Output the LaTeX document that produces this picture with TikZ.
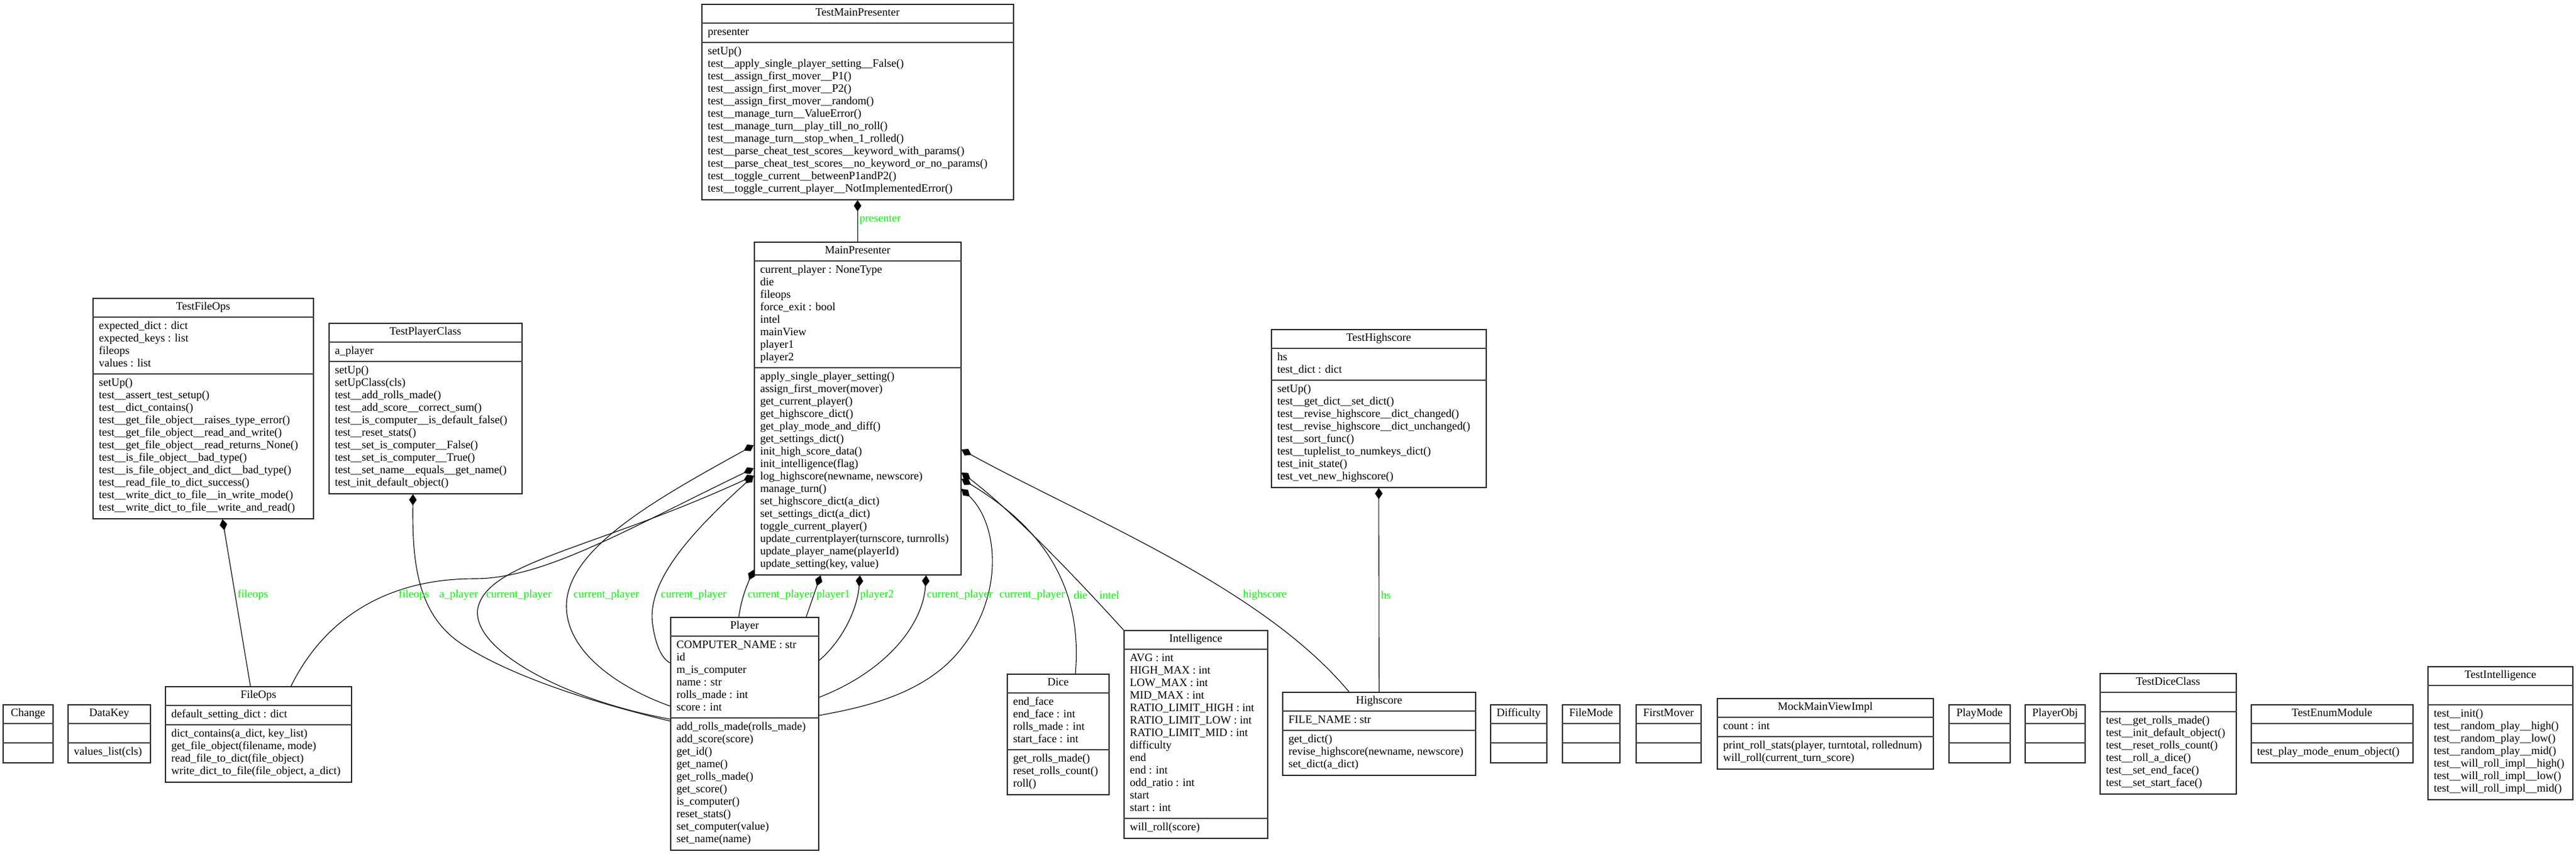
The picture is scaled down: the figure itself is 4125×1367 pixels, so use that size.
\documentclass[tikz,border=0pt]{standalone}
\usepackage{fontspec}
\setmainfont{Liberation Serif}
\usetikzlibrary{arrows.meta,calc}

\definecolor{lblgreen}{RGB}{0,255,0}
\newcommand\umlfont{\fontsize{9}{10}\selectfont}
\newcommand\rows[1]{\begin{tabular}{@{}l@{}}#1\end{tabular}}
% id, left, top, width, attr rows, op rows, name, attributes, operations
\newcommand\umlclass[9]{%
  \node[classbox, minimum width={#4*0.5pt}, minimum height={(53+(#5+#6)*20)*0.5pt}] (#1) at (#2,#3) {};
  \draw[sepline] ($(#1.north west)+(0,31)$) -- ($(#1.north east)+(0,31)$);
  \draw[sepline] ($(#1.north west)+(0,42+#5*20)$) -- ($(#1.north east)+(0,42+#5*20)$);
  \node[classtext, anchor=north] (#1-name) at ($(#1.north)+(0,5.5)$) {\rows{#7}};
  \node[classtext] (#1-attr) at ($(#1.north west)+(10,36.5)$) {\rows{#8}};
  \node[classtext] (#1-op) at ($(#1.north west)+(10,47.5+#5*20)$) {\rows{#9}};
}

\begin{document}
\begin{tikzpicture}[x=0.5pt, y=-0.5pt,
  classbox/.style={draw=black!85, line width=0.8pt, fill=white, anchor=north west, inner sep=0pt},
  sepline/.style={draw=black!75, line width=0.9pt},
  classtext/.style={anchor=north west, inner sep=0pt, font=\umlfont},
  rel/.style={{Diamond[length=9pt,width=6pt]}-, line width=0.55pt},
  lbl/.style={anchor=west, inner sep=0pt, text=lblgreen, font=\umlfont}]

\path[fill=white] (0,0) rectangle (4125,1367);
\useasboundingbox (0,0) rectangle (4125,1367);

\umlclass{tmp}{1123}{6}{499}{1}{12}{TestMainPresenter}{presenter}{setUp()\\
test\_\_apply\_single\_player\_setting\_\_False()\\
test\_\_assign\_first\_mover\_\_P1()\\
test\_\_assign\_first\_mover\_\_P2()\\
test\_\_assign\_first\_mover\_\_random()\\
test\_\_manage\_turn\_\_ValueError()\\
test\_\_manage\_turn\_\_play\_till\_no\_roll()\\
test\_\_manage\_turn\_\_stop\_when\_1\_rolled()\\
test\_\_parse\_cheat\_test\_scores\_\_keyword\_with\_params()\\
test\_\_parse\_cheat\_test\_scores\_\_no\_keyword\_or\_no\_params()\\
test\_\_toggle\_current\_\_betweenP1andP2()\\
test\_\_toggle\_current\_player\_\_NotImplementedError()}

\umlclass{mp}{1207}{387}{331}{8}{16}{MainPresenter}{current\_player : NoneType\\
die\\
fileops\\
force\_exit : bool\\
intel\\
mainView\\
player1\\
player2}{apply\_single\_player\_setting()\\
assign\_first\_mover(mover)\\
get\_current\_player()\\
get\_highscore\_dict()\\
get\_play\_mode\_and\_diff()\\
get\_settings\_dict()\\
init\_high\_score\_data()\\
init\_intelligence(flag)\\
log\_highscore(newname, newscore)\\
manage\_turn()\\
set\_highscore\_dict(a\_dict)\\
set\_settings\_dict(a\_dict)\\
toggle\_current\_player()\\
update\_currentplayer(turnscore, turnrolls)\\
update\_player\_name(playerId)\\
update\_setting(key, value)}

\umlclass{tfo}{148}{477}{353}{4}{11}{TestFileOps}{expected\_dict : dict\\
expected\_keys : list\\
fileops\\
values : list}{setUp()\\
test\_\_assert\_test\_setup()\\
test\_\_dict\_contains()\\
test\_\_get\_file\_object\_\_raises\_type\_error()\\
test\_\_get\_file\_object\_\_read\_and\_write()\\
test\_\_get\_file\_object\_\_read\_returns\_None()\\
test\_\_is\_file\_object\_\_bad\_type()\\
test\_\_is\_file\_object\_and\_dict\_\_bad\_type()\\
test\_\_read\_file\_to\_dict\_success()\\
test\_\_write\_dict\_to\_file\_\_in\_write\_mode()\\
test\_\_write\_dict\_to\_file\_\_write\_and\_read()}

\umlclass{tpc}{526}{517}{309}{1}{10}{TestPlayerClass}{a\_player}{setUp()\\
setUpClass(cls)\\
test\_\_add\_rolls\_made()\\
test\_\_add\_score\_\_correct\_sum()\\
test\_\_is\_computer\_\_is\_default\_false()\\
test\_\_reset\_stats()\\
test\_\_set\_is\_computer\_\_False()\\
test\_\_set\_is\_computer\_\_True()\\
test\_\_set\_name\_\_equals\_\_get\_name()\\
test\_init\_default\_object()}

\umlclass{ths}{2035}{527}{344}{2}{8}{TestHighscore}{hs\\
test\_dict : dict}{setUp()\\
test\_\_get\_dict\_\_set\_dict()\\
test\_\_revise\_highscore\_\_dict\_changed()\\
test\_\_revise\_highscore\_\_dict\_unchanged()\\
test\_\_sort\_func()\\
test\_\_tuplelist\_to\_numkeys\_dict()\\
test\_init\_state()\\
test\_vet\_new\_highscore()}

\umlclass{chg}{4}{1128}{80}{1}{1}{Change}{}{}
\umlclass{dk}{108}{1128}{132}{1}{1}{DataKey}{}{values\_list(cls)}

\umlclass{fo}{264}{1099}{298}{1}{4}{FileOps}{default\_setting\_dict : dict}{dict\_contains(a\_dict, key\_list)\\
get\_file\_object(filename, mode)\\
read\_file\_to\_dict(file\_object)\\
write\_dict\_to\_file(file\_object, a\_dict)}

\umlclass{pl}{1073}{988}{237}{6}{10}{Player}{COMPUTER\_NAME : str\\
id\\
m\_is\_computer\\
name : str\\
rolls\_made : int\\
score : int}{add\_rolls\_made(rolls\_made)\\
add\_score(score)\\
get\_id()\\
get\_name()\\
get\_rolls\_made()\\
get\_score()\\
is\_computer()\\
reset\_stats()\\
set\_computer(value)\\
set\_name(name)}

\umlclass{dice}{1612}{1079}{163}{4}{3}{Dice}{end\_face\\
end\_face : int\\
rolls\_made : int\\
start\_face : int}{get\_rolls\_made()\\
reset\_rolls\_count()\\
roll()}

\umlclass{intel}{1799}{1009}{230}{13}{1}{Intelligence}{AVG : int\\
HIGH\_MAX : int\\
LOW\_MAX : int\\
MID\_MAX : int\\
RATIO\_LIMIT\_HIGH : int\\
RATIO\_LIMIT\_LOW : int\\
RATIO\_LIMIT\_MID : int\\
difficulty\\
end\\
end : int\\
odd\_ratio : int\\
start\\
start : int}{will\_roll(score)}

\umlclass{hsc}{2053}{1108}{309}{1}{3}{Highscore}{FILE\_NAME : str}{get\_dict()\\
revise\_highscore(newname, newscore)\\
set\_dict(a\_dict)}

\umlclass{diff}{2386}{1128}{90}{1}{1}{Difficulty}{}{}
\umlclass{fmode}{2501}{1128}{92}{1}{1}{FileMode}{}{}
\umlclass{fmover}{2619}{1128}{104}{1}{1}{FirstMover}{}{}
\umlclass{mock}{2749}{1118}{346}{1}{2}{MockMainViewImpl}{count : int}{print\_roll\_stats(player, turntotal, rollednum)\\
will\_roll(current\_turn\_score)}
\umlclass{pmode}{3120}{1128}{98}{1}{1}{PlayMode}{}{}
\umlclass{pobj}{3242}{1128}{96}{1}{1}{PlayerObj}{}{}

\umlclass{tdc}{3362}{1078}{218}{1}{6}{TestDiceClass}{}{test\_\_get\_rolls\_made()\\
test\_\_init\_default\_object()\\
test\_\_reset\_rolls\_count()\\
test\_\_roll\_a\_dice()\\
test\_\_set\_end\_face()\\
test\_\_set\_start\_face()}
\umlclass{tenum}{3604}{1128}{259}{1}{1}{TestEnumModule}{}{test\_play\_mode\_enum\_object()}
\umlclass{tintel}{3887}{1067}{232}{1}{7}{TestIntelligence}{}{test\_\_init()\\
test\_\_random\_play\_\_high()\\
test\_\_random\_play\_\_low()\\
test\_\_random\_play\_\_mid()\\
test\_\_will\_roll\_impl\_\_high()\\
test\_\_will\_roll\_impl\_\_low()\\
test\_\_will\_roll\_impl\_\_mid()}

\draw[rel] (tmp.south) -- (mp.north);
\draw[rel] ($(tfo.south)+(31,0)$) -- ($(fo.north west)+(137,0)$);
\draw[rel] ($(tpc.south)+(-20,0)$) .. controls (660,900) and (668,985) .. (740,1032) .. controls (820,1085) and (960,1128) .. ($(pl.north west)+(0,167)$);
\draw[rel] ($(mp.north west)+(0,363)$) .. controls (1000,850) and (870,927) .. (760,927) .. controls (620,927) and (520,990) .. ($(fo.north west)+(202,0)$);
\draw[rel] ($(mp.north west)+(0,326)$) .. controls (1050,800) and (905,880) .. (907,973) .. controls (909,1050) and (1000,1105) .. ($(pl.north west)+(0,143)$);
\draw[rel] ($(mp.north west)+(0,375)$) .. controls (950,880) and (780,900) .. (765,975) .. controls (755,1040) and (900,1120) .. ($(pl.north west)+(0,164)$);
\draw[rel] ($(mp.north west)+(0,375)$) .. controls (1110,850) and (1035,930) .. (1045,1000) .. controls (1050,1035) and (1060,1055) .. ($(pl.north west)+(0,74)$);
\draw[rel] ($(mp.south west)+(0,-9)$) .. controls (1195,940) and (1187,960) .. ($(pl.north west)+(110,0)$);
\draw[rel] ($(mp.south west)+(107,0)$) -- ($(pl.north west)+(218,0)$);
\draw[rel] ($(mp.south west)+(170,0)$) .. controls (1373,975) and (1350,1025) .. ($(pl.north east)+(0,70)$);
\draw[rel] ($(mp.south west)+(276,0)$) .. controls (1478,1000) and (1420,1075) .. ($(pl.north east)+(0,129)$);
\draw[rel] ($(mp.north east)+(0,396)$) .. controls (1600,840) and (1610,960) .. (1530,1050) .. controls (1470,1117) and (1370,1135) .. ($(pl.north east)+(0,158)$);
\draw[rel] ($(mp.north east)+(0,380)$) .. controls (1660,840) and (1735,930) .. ($(dice.north west)+(110,0)$);
\draw[rel] ($(mp.north east)+(0,370)$) .. controls (1610,810) and (1700,900) .. (intel.north west);
\draw[rel] ($(mp.north east)+(0,333)$) .. controls (1740,830) and (2020,940) .. ($(hsc.north west)+(107,0)$);
\draw[rel] (ths.south) -- (hsc.north);

\node[lbl] (l-presenter) at (1376,352) {presenter};
\node[lbl] (l-fileops1) at (380,953) {fileops};
\node[lbl] (l-fileops2) at (638,953) {fileops};
\node[lbl] (l-aplayer) at (703,953) {a\_player};
\node[lbl] (l-cp1) at (778,953) {current\_player};
\node[lbl] (l-cp2) at (918,953) {current\_player};
\node[lbl] (l-cp3) at (1058,953) {current\_player};
\node[lbl] (l-cp4) at (1197,953) {current\_player};
\node[lbl] (l-player1) at (1307,953) {player1};
\node[lbl] (l-player2) at (1377,953) {player2};
\node[lbl] (l-cp5) at (1484,953) {current\_player};
\node[lbl] (l-cp6) at (1600,953) {current\_player};
\node[lbl] (l-die) at (1719,953) {die};
\node[lbl] (l-intel) at (1760,953) {intel};
\node[lbl] (l-highscore) at (1990,953) {highscore};
\node[lbl] (l-hs) at (2211,953) {hs};

\end{tikzpicture}
\end{document}
